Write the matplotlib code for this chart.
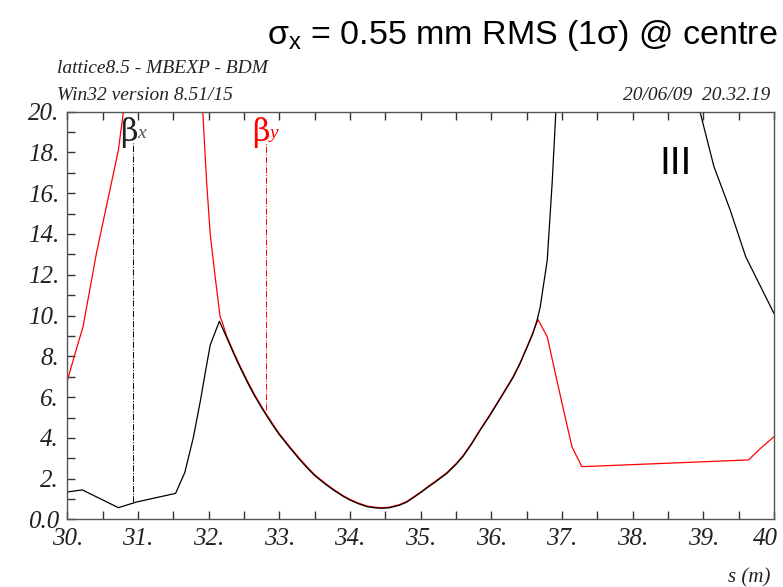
import numpy as np
import matplotlib
matplotlib.use("Agg")
import matplotlib.pyplot as plt
from matplotlib.ticker import FixedLocator, FixedFormatter, MultipleLocator
from matplotlib.transforms import ScaledTranslation

plt.rcParams['mathtext.fontset'] = 'custom'
plt.rcParams['mathtext.rm'] = 'Liberation Sans'

# beta_x (black); values above 20 are clipped by the axes
bx_s = [30.0, 30.21, 30.72, 30.98, 31.53, 31.66, 31.78, 31.88, 31.95, 32.02, 32.15,
        32.25, 32.35, 32.45, 32.55, 32.65, 32.77, 32.9, 33.0, 33.15, 33.29,
        33.4, 33.5, 33.65, 33.77, 33.9, 34.0, 34.12, 34.24, 34.35, 34.45,
        34.55, 34.7, 34.8, 34.9, 35.0, 35.1, 35.2, 35.37, 35.5, 35.6,
        35.72, 35.84, 35.96, 36.1, 36.2, 36.31, 36.4, 36.5, 36.58, 36.645,
        36.69, 36.79, 36.86, 36.92, np.nan,
        38.93, 39.15, 39.38, 39.6, 40.0]
bx_v = [1.35, 1.45, 0.58, 0.86, 1.28, 2.3, 4.0, 5.8, 7.2, 8.55, 9.72,
        8.95, 8.15, 7.4, 6.7, 6.05, 5.35, 4.65, 4.15, 3.5, 2.92,
        2.5, 2.15, 1.73, 1.43, 1.14, 0.95, 0.77, 0.63, 0.57, 0.55,
        0.57, 0.7, 0.85, 1.08, 1.32, 1.58, 1.82, 2.26, 2.7, 3.1,
        3.7, 4.37, 5.0, 5.78, 6.35, 6.98, 7.6, 8.4, 9.05, 9.75,
        10.4, 12.7, 16.5, 20.5, np.nan,
        20.3, 17.3, 15.17, 12.88, 10.1]

# beta_y (red)
by_s = [30.0, 30.13, 30.22, 30.41, 30.6, 30.72, 30.81, np.nan,
        31.91, 31.97, 32.02, 32.09, 32.16, 32.19,
        32.25, 32.35, 32.45, 32.55, 32.65, 32.77, 32.9, 33.0, 33.15, 33.29,
        33.4, 33.5, 33.65, 33.77, 33.9, 34.0, 34.12, 34.24, 34.35, 34.45,
        34.55, 34.7, 34.8, 34.9, 35.0, 35.1, 35.2, 35.37, 35.5, 35.6,
        35.72, 35.84, 35.96, 36.1, 36.2, 36.31, 36.4, 36.5, 36.58, 36.66,
        36.79, 36.98, 37.14, 37.28, 38.43, 39.64, 39.81, 40.0]
by_v = [6.84, 8.4, 9.45, 13.06, 16.15, 18.1, 20.5, np.nan,
        20.3, 16.5, 14.0, 11.9, 9.94, 9.68,
        9.02, 8.22, 7.47, 6.77, 6.11, 5.41, 4.71, 4.2, 3.55, 2.97,
        2.55, 2.19, 1.77, 1.47, 1.17, 0.98, 0.8, 0.66, 0.6, 0.58,
        0.6, 0.73, 0.88, 1.11, 1.35, 1.61, 1.86, 2.3, 2.74, 3.14,
        3.74, 4.41, 5.04, 5.82, 6.39, 7.02, 7.64, 8.44, 9.1, 9.8,
        8.96, 6.0, 3.57, 2.59, 2.75, 2.92, 3.49, 4.06]

xtick_vals = [30, 31, 32, 33, 34, 35, 36, 37, 38, 39, 40]
xtick_labels = ['30.', '31.', '32.', '33.', '34.', '35.', '36.', '37.', '38.', '39.', '40']
ytick_vals = [0, 2, 4, 6, 8, 10, 12, 14, 16, 18, 20]
ytick_labels = ['0.0', '2.', '4.', '6.', '8.', '10.', '12.', '14.', '16.', '18.', '20.']

fig = plt.figure(figsize=(7.83, 5.87), dpi=100)
ax = fig.add_axes([0.0862, 0.115, 0.9023, 0.695])

ax.plot(by_s, by_v, color='#ff0000', lw=0.9)
ax.plot(bx_s, bx_v, color='black', lw=0.9)

# element marker lines under the beta labels
ax.vlines(30.93, 0.85, 18.5, colors='black', linestyles='-.', lw=0.7)
ax.vlines(32.81, 5.35, 18.5, colors='#ff0000', linestyles='-.', lw=0.7)

ax.set_xlim(30, 40)
ax.set_ylim(0, 20)
ax.xaxis.set_major_locator(FixedLocator(xtick_vals))
ax.xaxis.set_major_formatter(FixedFormatter(xtick_labels))
ax.yaxis.set_major_locator(FixedLocator(ytick_vals))
ax.yaxis.set_major_formatter(FixedFormatter(ytick_labels))
ax.xaxis.set_minor_locator(MultipleLocator(0.5))
ax.yaxis.set_minor_locator(MultipleLocator(1))
ax.tick_params(which='both', direction='in', top=True, right=False,
               length=6, width=1, color='#333333')
ax.tick_params(axis='both', which='major', pad=6)
for lab in ax.get_xticklabels() + ax.get_yticklabels():
    lab.set_fontfamily('Liberation Serif')
    lab.set_fontstyle('italic')
    lab.set_fontsize(18)
    lab.set_color('#222222')
# keep the last x label inside the figure
last = ax.get_xticklabels()[-1]
last.set_transform(last.get_transform() + ScaledTranslation(-6 / 72, 0, fig.dpi_scale_trans))
for sp in ax.spines.values():
    sp.set_color('#555555')
    sp.set_linewidth(1)

# beta labels
ax.text(30.75, 18.55, 'β', fontsize=22, family='DejaVu Serif', color='#222222')
ax.text(30.99, 18.7, 'x', fontsize=14, family='Liberation Serif', style='italic', color='#555555')
ax.text(32.62, 18.55, 'β', fontsize=22, family='DejaVu Serif', color='#ff0000')
ax.text(32.86, 18.7, 'y', fontsize=14, family='Liberation Serif', style='italic', color='#ff0000')
ax.text(38.38, 16.95, 'III', fontsize=28, family='Liberation Sans', color='black')

fig.text(0.993, 0.925, r'σ$_\mathregular{x}$ = 0.55 mm RMS (1σ) @ centre',
         ha='right', va='baseline', fontsize=24.5, family='Liberation Sans')
fig.text(0.073, 0.875, 'lattice8.5 - MBEXP - BDM', fontsize=14,
         family='Liberation Serif', style='italic', color='#222222')
fig.text(0.073, 0.83, 'Win32 version 8.51/15', fontsize=14,
         family='Liberation Serif', style='italic', color='#222222')
fig.text(0.984, 0.83, '20/06/09  20.32.19', ha='right', fontsize=14,
         family='Liberation Serif', style='italic', color='#222222')
fig.text(0.984, 0.008, 's (m)', ha='right', fontsize=15,
         family='Liberation Serif', style='italic', color='#222222')

fig.savefig('out.png', dpi=100)
